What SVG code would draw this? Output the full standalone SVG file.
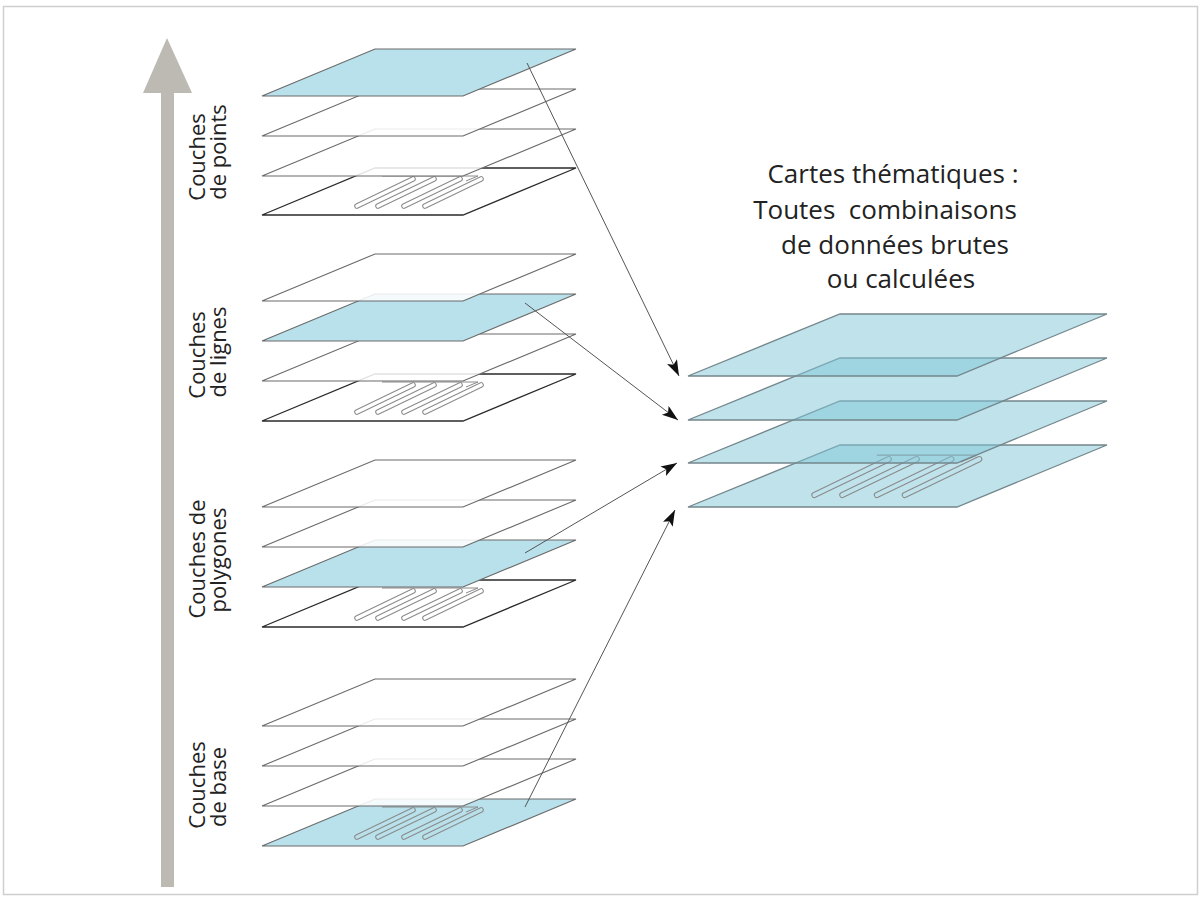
<svg xmlns="http://www.w3.org/2000/svg" xmlns:xlink="http://www.w3.org/1999/xlink" width="1201" height="899" viewBox="0 0 1201 899">
<style>
.w{fill:#ffffff;fill-opacity:0.86;stroke:#6a6a6a;stroke-width:1.1}
.wd{fill:#ffffff;fill-opacity:0.86;stroke:#2a2a2a;stroke-width:1.3}
.b{fill:#b8e1eb;stroke:#6a6a6a;stroke-width:1.1}
.r{fill:#7fc6d8;fill-opacity:0.5;stroke:#74878c;stroke-width:1.3}
.po{fill:none;stroke:#8a8a8a;stroke-width:5.6;stroke-linecap:round;stroke-linejoin:round}
.frame{fill:none;stroke:#8a8a8a;stroke-width:1}
.lbl{font-family:"Open Sans","Noto Sans",sans-serif;font-size:22px;fill:#222;text-anchor:middle}
.ttl{font-family:"Open Sans","Noto Sans",sans-serif;font-size:26px;fill:#222;text-anchor:middle}
.con{fill:none;stroke:#555;stroke-width:1;marker-end:url(#ah)}
</style>
<defs>
<polygon id="L" points="0,0 201,0 314,-47 113,-47"/>
<polygon id="R" points="0,0 269,0 419,-62 152,-62"/>
<g id="loops">
<path d="M95,-9 L151,-36 M116,-9 L172,-36 M142,-9 L198,-36 M163,-9 L219,-36"/>
</g>
<marker id="ah" markerUnits="userSpaceOnUse" markerWidth="18" markerHeight="12" refX="16" refY="5.5" orient="auto">
<path d="M0,0 L16,5.5 L0,11 L3.5,5.5 z" fill="#111"/>
</marker>
</defs>
<rect x="3.5" y="6.5" width="1194" height="888" fill="#ffffff" stroke="#cfcfcf" stroke-width="1.5"/>
<g id="axis">
<polygon points="167,38 192,93 174,93 174,887 161,887 161,93 143,93" fill="#bdb9b3"/>
</g>
<g id="stack-points">
<use xlink:href="#L" transform="translate(262,215)" class="wd"/>
<g transform="translate(262,215)">
<path d="M120,-39 H216 L204,-34" class="frame"/>
<use xlink:href="#loops" class="po"/>
<use xlink:href="#loops" style="fill:none;stroke:#ffffff;stroke-width:3.6;stroke-linecap:round"/>
</g>
<use xlink:href="#L" transform="translate(262,176)" class="w"/>
<use xlink:href="#L" transform="translate(262,136)" class="w"/>
<use xlink:href="#L" transform="translate(262,96)" class="b"/>
<text class="lbl" transform="translate(205,157) rotate(-90)">Couches</text>
<text class="lbl" transform="translate(226,152) rotate(-90)">de points</text>
</g>
<g id="stack-lignes">
<use xlink:href="#L" transform="translate(262,421)" class="wd"/>
<g transform="translate(262,421)">
<path d="M120,-39 H216 L204,-34" class="frame"/>
<use xlink:href="#loops" class="po"/>
<use xlink:href="#loops" style="fill:none;stroke:#ffffff;stroke-width:3.6;stroke-linecap:round"/>
</g>
<use xlink:href="#L" transform="translate(262,381)" class="w"/>
<use xlink:href="#L" transform="translate(262,341)" class="b"/>
<use xlink:href="#L" transform="translate(262,301)" class="w"/>
<text class="lbl" transform="translate(205,355) rotate(-90)">Couches</text>
<text class="lbl" transform="translate(226,352) rotate(-90)">de lignes</text>
</g>
<g id="stack-polygones">
<use xlink:href="#L" transform="translate(262,627)" class="wd"/>
<g transform="translate(262,627)">
<path d="M120,-39 H216 L204,-34" class="frame"/>
<use xlink:href="#loops" class="po"/>
<use xlink:href="#loops" style="fill:none;stroke:#ffffff;stroke-width:3.6;stroke-linecap:round"/>
</g>
<use xlink:href="#L" transform="translate(262,587)" class="b"/>
<use xlink:href="#L" transform="translate(262,547)" class="w"/>
<use xlink:href="#L" transform="translate(262,507)" class="w"/>
<text class="lbl" transform="translate(205,559) rotate(-90)">Couches de</text>
<text class="lbl" transform="translate(226,560) rotate(-90)">polygones</text>
</g>
<g id="stack-base">
<use xlink:href="#L" transform="translate(262,846)" class="b"/>
<g transform="translate(262,846)">
<path d="M120,-39 H216 L204,-34" class="frame"/>
<use xlink:href="#loops" class="po"/>
<use xlink:href="#loops" style="fill:none;stroke:#b8e1eb;stroke-width:3.6;stroke-linecap:round"/>
</g>
<use xlink:href="#L" transform="translate(262,806)" class="w"/>
<use xlink:href="#L" transform="translate(262,766)" class="w"/>
<use xlink:href="#L" transform="translate(262,726)" class="w"/>
<text class="lbl" transform="translate(205,785) rotate(-90)">Couches</text>
<text class="lbl" transform="translate(226,787) rotate(-90)">de base</text>
</g>
<g id="stack-thematic">
<use xlink:href="#R" transform="translate(688,507)" class="r"/>
<g transform="translate(688,507) scale(1.33)">
<path d="M142,-39 H217 L205,-34" class="frame"/>
<use xlink:href="#loops" class="po" style="stroke-width:4.6"/>
<use xlink:href="#loops" style="fill:none;stroke:#bfe3ec;stroke-width:3;stroke-linecap:round"/>
</g>
<use xlink:href="#R" transform="translate(688,463)" class="r"/>
<use xlink:href="#R" transform="translate(688,420)" class="r"/>
<use xlink:href="#R" transform="translate(688,376)" class="r"/>
</g>
<g id="title">
<text class="ttl" x="893" y="183">Cartes thématiques :</text>
<text class="ttl" x="885" y="219" xml:space="preserve">Toutes  combinaisons</text>
<text class="ttl" x="895" y="254">de données brutes</text>
<text class="ttl" x="901" y="288">ou calculées</text>
</g>
<g id="connectors">
<path class="con" d="M527,63 L679,376"/>
<path class="con" d="M525,303 L678,420"/>
<path class="con" d="M525,553 L677,463"/>
<path class="con" d="M525,807 L675,510"/>
</g>
</svg>
